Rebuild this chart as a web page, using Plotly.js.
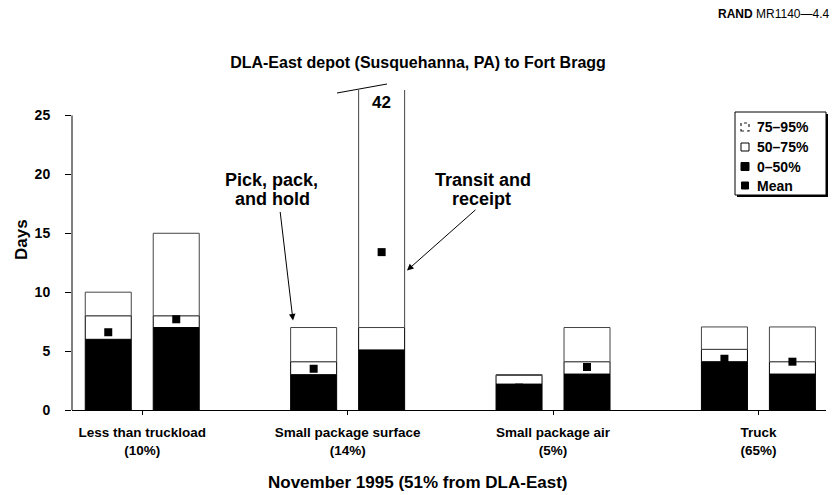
<!DOCTYPE html>
<html>
<head>
<meta charset="utf-8">
<script src="https://cdn.plot.ly/plotly-3.0.1.min.js"></script>
<style>html,body{margin:0;padding:0;background:#fff;}#chart{width:836px;height:495px;}</style>
</head>
<body>
<div id="chart"></div>
<script>
// ---- data ----
const categories = ["Less than truckload<br>(10%)", "Small package surface<br>(14%)", "Small package air<br>(5%)", "Truck<br>(65%)"];
const pick50 = [6.0, 3.0, 2.2, 4.1];
const pick75 = [8.0, 4.1, 2.95, 5.15];
const pick95 = [10.0, 7.0, 3.0, 7.05];
const pickMean = [6.6, 3.5, 1.9, 4.35];
const transit50 = [7.0, 5.1, 3.05, 3.05];
const transit75 = [8.0, 7.0, 4.1, 4.1];
const transit95 = [15.0, 42, 7.0, 7.05];
const transitMean = [7.7, 13.4, 3.65, 4.1];
const yTicks = [0, 5, 10, 15, 20, 25];
const legendLabels = ["75\u201395%", "50\u201375%", "0\u201350%", "Mean"];

// ---- layout geometry ----
const W = 836, H = 495;
const M = {l: 72, r: 10, t: 90, b: 85};
const PW = W - M.l - M.r, PH = H - M.t - M.b;
const px = x => (x - M.l) / PW;
const py = y => (H - M.b - y) / PH;
const FONT = "Liberation Sans, Arial, Helvetica, sans-serif";
const OFF = 0.1655, BW = 0.224;

const idx = categories.map((_, i) => i);
const pickX = idx.map(i => i - OFF);
const transitX = idx.map(i => i + OFF);
const zeros = categories.map(() => 0);

function seg(x, lo, hi, fill, lineColor) {
  return {
    type: 'bar', x: x, base: lo, y: hi.map((h, i) => h - lo[i]), width: BW,
    marker: {color: fill, line: {color: lineColor, width: 1}},
    hoverinfo: 'skip', showlegend: false
  };
}

const traces = [
  seg(pickX, zeros, pick50, '#000', '#000'),
  seg(pickX, pick50, pick75, '#fff', '#000'),
  seg(pickX, pick75, pick95, '#fff', '#444'),
  seg(transitX, zeros, transit50, '#000', '#000'),
  seg(transitX, transit50, transit75, '#fff', '#000'),
  seg(transitX, transit75, transit95, '#fff', '#444'),
  {
    type: 'scatter', mode: 'markers',
    x: pickX.concat(transitX), y: pickMean.concat(transitMean),
    marker: {symbol: 'square', size: 8, color: '#000'},
    hoverinfo: 'skip', showlegend: false, cliponaxis: false
  }
];

// ---- custom legend ----
const shapes = [];
const annotations = [];
function txt(x, y, text, size, opts) {
  return Object.assign({xref: 'paper', yref: 'paper', x: px(x), y: py(y), xanchor: 'center', yanchor: 'middle',
    text: text, showarrow: false, font: {family: FONT, size: size, color: '#000', weight: 'bold'}}, opts || {});
}
const lgL = 735, lgR = 826, lgT = 112, lgB = 195;
shapes.push({type: 'rect', xref: 'paper', yref: 'paper', x0: px(lgL + 2), x1: px(lgR + 2), y0: py(lgB + 2), y1: py(lgT + 2), fillcolor: '#000', line: {width: 0}});
shapes.push({type: 'rect', xref: 'paper', yref: 'paper', x0: px(lgL), x1: px(lgR), y0: py(lgB), y1: py(lgT), fillcolor: '#fff', line: {color: '#000', width: 1}});
const rows = [127, 147, 166.5, 185.5];
const symStyles = [
  {fill: '#fff', line: {color: '#222', width: 1.2, dash: 'dot'}, s: 4},
  {fill: '#fff', line: {color: '#000', width: 1}, s: 4},
  {fill: '#000', line: {color: '#000', width: 1}, s: 4},
  {fill: '#000', line: {color: '#000', width: 1}, s: 3.5}
];
legendLabels.forEach((lab, k) => {
  const st = symStyles[k], cy = rows[k], cx = 745;
  shapes.push({type: 'rect', xref: 'paper', yref: 'paper', x0: px(cx - st.s), x1: px(cx + st.s), y0: py(cy + st.s), y1: py(cy - st.s), fillcolor: st.fill, line: st.line});
  annotations.push(txt(755, cy, lab, 14, {xanchor: 'left'}));
});

// y-axis line from 0 to 25 only
shapes.push({type: 'line', xref: 'paper', yref: 'y', x0: 0, x1: 0, y0: 0, y1: yTicks[yTicks.length - 1], line: {color: '#000', width: 1}});
// break mark at the top of the off-scale bar
shapes.push({type: 'line', xref: 'paper', yref: 'paper', x0: px(337), y0: py(93), x1: px(387), y1: py(84), line: {color: '#000', width: 1}});

// value label of the off-scale bar
annotations.push({xref: 'x', yref: 'paper', x: transitX[1], y: py(102), xanchor: 'center', yanchor: 'middle', text: String(transit95[1]), showarrow: false, font: {family: FONT, size: 17, color: '#000', weight: 'bold'}});

// text annotations
annotations.push(txt(271, 180, 'Pick, pack,', 18));
annotations.push(txt(272, 199, 'and hold', 18));
annotations.push(txt(483, 180, 'Transit and', 18));
annotations.push(txt(482, 199, 'receipt', 18));
// arrows
annotations.push({xref: 'x', yref: 'y', x: 0.734, y: 7.6, ax: -13, ay: -110, text: '', showarrow: true, arrowhead: 2, arrowsize: 1.3, arrowwidth: 1, arrowcolor: '#000', standoff: 0});
annotations.push({xref: 'x', yref: 'y', x: 1.289, y: 11.84, ax: 70, ay: -62, text: '', showarrow: true, arrowhead: 2, arrowsize: 1.3, arrowwidth: 1, arrowcolor: '#000', standoff: 0});

// axis titles & source
annotations.push(txt(417, 482, 'November 1995 (51% from DLA-East)', 17));
annotations.push(txt(21, 240, 'Days', 17, {textangle: -90}));
annotations.push(txt(716, 14, '<b>RAND</b> MR1140\u20144.4', 12, {xanchor: 'left', font: {family: FONT, size: 12, color: '#000'}}));

const layout = {
  width: W, height: H,
  margin: M,
  paper_bgcolor: '#fff', plot_bgcolor: '#fff',
  barmode: 'overlay',
  showlegend: false,
  title: {text: 'DLA-East depot (Susquehanna, PA) to Fort Bragg', x: 0.5, xref: 'container', xanchor: 'center', y: 1 - 62 / H, yref: 'container', yanchor: 'middle', font: {family: FONT, size: 16, color: '#000', weight: 'bold'}},
  xaxis: {
    range: [-0.342, 3.329], tickvals: idx, ticktext: categories,
    showline: true, linecolor: '#000', linewidth: 1, showgrid: false, zeroline: false,
    ticks: 'outside', ticklen: 4, tickcolor: '#000', tickwidth: 1, ticklabelstandoff: 6,
    tickfont: {family: FONT, size: 13.5, color: '#000', weight: 'bold'}, fixedrange: true
  },
  yaxis: {
    range: [0, 27.16], tickvals: yTicks, ticktext: yTicks.map(String),
    showline: false, showgrid: false, zeroline: false,
    ticks: 'outside', ticklen: 6, tickcolor: '#000', tickwidth: 1, ticklabelstandoff: 12,
    tickfont: {family: FONT, size: 14, color: '#000', weight: 'bold'}, fixedrange: true
  },
  shapes: shapes,
  annotations: annotations
};

Plotly.newPlot('chart', traces, layout, {staticPlot: true, displayModeBar: false});
</script>
</body>
</html>
